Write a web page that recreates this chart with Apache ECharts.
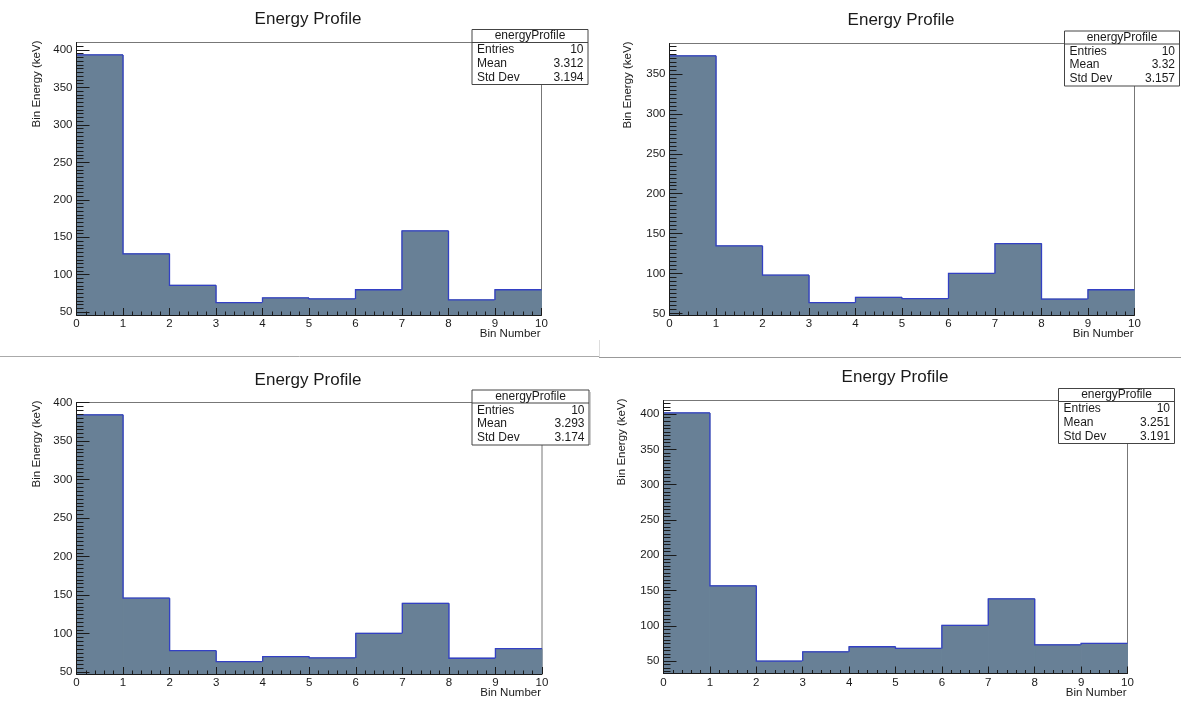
<!DOCTYPE html>
<html>
<head>
<meta charset="utf-8">
<script src="https://cdn.jsdelivr.net/npm/echarts@6/dist/echarts.min.js"></script>
<style>
html,body{margin:0;padding:0;background:#fff;}
#chart{width:1181px;height:713px;}
</style>
</head>
<body>
<div id="chart"></div>
<script>
// ---------------- data ----------------
const binNumbers = [0, 1, 2, 3, 4, 5, 6, 7, 8, 9];
const binWidth = 1;
const panel1Values = [393.4, 127.9, 85.9, 62.8, 69.0, 67.7, 80.0, 158.5, 66.4, 80.0];
const panel2Values = [372.9, 134.6, 97.9, 63.4, 70.0, 68.4, 100.0, 137.5, 67.9, 79.6];
const panel3Values = [384.2, 146.2, 78.0, 63.7, 70.2, 68.5, 100.5, 139.4, 68.1, 80.6];
const panel4Values = [401.8, 156.7, 50.0, 63.2, 70.3, 68.0, 100.6, 138.2, 73.1, 75.0];
const xTickLabels = [0, 1, 2, 3, 4, 5, 6, 7, 8, 9, 10];
const yTicks1 = [50, 100, 150, 200, 250, 300, 350, 400];
const yTicks2 = [50, 100, 150, 200, 250, 300, 350];
const yTicks3 = [50, 100, 150, 200, 250, 300, 350, 400];
const yTicks4 = [50, 100, 150, 200, 250, 300, 350, 400];
const statsEntries = ['10', '10', '10', '10'];
const statsMean = ['3.312', '3.32', '3.293', '3.251'];
const statsStdDev = ['3.194', '3.157', '3.174', '3.191'];
const titleText = 'Energy Profile';
const xTitle = 'Bin Number';
const yTitle = 'Bin Energy (keV)';
const statsName = 'energyProfile';

const allValues = [panel1Values, panel2Values, panel3Values, panel4Values];
const allYTicks = [yTicks1, yTicks2, yTicks3, yTicks4];

// ---------------- layout (positions / styles) ----------------
const FONT = '"Liberation Sans", Arial, Helvetica, sans-serif';
const FILL = '#688096';
const EDGE = '#3340c4';
const INK = '#1a1a1a';
const layout = [
  {left: 76.5, top: 42.5, width: 465, height: 272.5, titleX: 308, titleY: 19, yTitleX: 36.5, box: {x: 472, y: 29.5, w: 116}},
  {left: 669.5, top: 43.5, width: 465, height: 271.5, titleX: 901, titleY: 20.5, yTitleX: 628, box: {x: 1064.5, y: 31, w: 115}},
  {left: 76.5, top: 402.5, width: 465.5, height: 271.5, titleX: 308, titleY: 380, yTitleX: 36.5, box: {x: 472, y: 390, w: 117}},
  {left: 663.5, top: 400.5, width: 464, height: 273, titleX: 895, titleY: 377.5, yTitleX: 622, box: {x: 1058.5, y: 388.5, w: 116}}
];

function extentOf(vals) {
  const mn = Math.min.apply(null, vals), mx = Math.max.apply(null, vals);
  const m = 0.05 * (mx - mn);
  return [mn - m, mx + m];
}

const grids = [], xAxes = [], yAxes = [], series = [], graphics = [];

allValues.forEach(function (vals, p) {
  const L = layout[p];
  const ext = extentOf(vals);
  const majors = allYTicks[p];
  const minors = [];
  for (let v = Math.ceil(ext[0] / 5) * 5; v <= ext[1]; v += 5) {
    if (v % 50 !== 0) minors.push(v);
  }
  grids.push({
    left: L.left, top: L.top, width: L.width, height: L.height,
    show: true, borderColor: '#777', borderWidth: 1, backgroundColor: 'transparent',
    containLabel: false, outerBoundsMode: 'none'
  });
  xAxes.push({
    type: 'value', gridIndex: p, min: xTickLabels[0], max: xTickLabels[xTickLabels.length - 1], interval: 1,
    z: 5,
    axisLine: {show: true, onZero: false, lineStyle: {color: INK, width: 1}},
    axisTick: {show: true, inside: true, length: 7, lineStyle: {color: INK, width: 1}},
    minorTick: {show: true, splitNumber: 5, length: 3.5, lineStyle: {color: INK, width: 1}},
    splitLine: {show: false}, minorSplitLine: {show: false},
    axisLabel: {fontFamily: FONT, fontSize: 11.5, color: INK, margin: 3,
      formatter: function (v) { return String(v); }}
  });
  yAxes.push({
    type: 'value', gridIndex: p, position: 'left', min: ext[0], max: ext[1], z: 5,
    axisLine: {show: true, onZero: false, lineStyle: {color: INK, width: 1}},
    axisTick: {show: true, inside: true, length: 13, customValues: majors, lineStyle: {color: INK, width: 1}},
    axisLabel: {show: true, customValues: majors, fontFamily: FONT, fontSize: 11.5, color: INK, margin: 4},
    splitLine: {show: false}
  });
  yAxes.push({
    type: 'value', gridIndex: p, position: 'left', offset: 0, min: ext[0], max: ext[1], z: 5,
    axisLine: {show: false},
    axisTick: {show: true, inside: true, length: 7, customValues: minors, lineStyle: {color: INK, width: 1}},
    axisLabel: {show: false},
    splitLine: {show: false}
  });
  // [bin low edge, content, previous bin content]
  const binData = binNumbers.map(function (b, i) { return [b, vals[i], i > 0 ? vals[i - 1] : vals[i]]; });
  series.push({
    type: 'custom', xAxisIndex: p, yAxisIndex: 2 * p, data: binData, silent: true, z: 2, clip: true,
    encode: {x: 0, y: 1},
    renderItem: function (params, api) {
      const x0 = api.value(0), v = api.value(1), prev = api.value(2);
      const tl = api.coord([x0, v]);
      const br = api.coord([x0 + binWidth, ext[0]]);
      const pPrev = api.coord([x0, prev]);
      const pEnd = api.coord([x0 + binWidth, v]);
      return {type: 'group', children: [
        {type: 'rect', shape: {x: tl[0], y: tl[1], width: br[0] - tl[0], height: br[1] - tl[1]},
          style: {fill: FILL, stroke: FILL, lineWidth: 1}},
        {type: 'polyline', shape: {points: [pPrev, tl, pEnd]},
          style: {stroke: EDGE, lineWidth: 1.3, fill: null}}
      ]};
    }
  });

  // title
  graphics.push({type: 'text', x: L.titleX, y: L.titleY, z: 20,
    style: {text: titleText, fontFamily: FONT, fontSize: 17, fill: INK, textAlign: 'center', textVerticalAlign: 'middle'}});
  // x title (right aligned under frame)
  graphics.push({type: 'text', x: L.left + L.width - 1, y: L.top + L.height + 19, z: 20,
    style: {text: xTitle, fontFamily: FONT, fontSize: 11.5, fill: INK, textAlign: 'right', textVerticalAlign: 'middle'}});
  // y title (rotated, top end at frame top)
  graphics.push({type: 'text', x: L.yTitleX, y: L.top - 2, rotation: Math.PI / 2, z: 20,
    style: {text: yTitle, fontFamily: FONT, fontSize: 11.5, fill: INK, textAlign: 'right', textVerticalAlign: 'middle'}});
  // stats box
  const B = L.box, H = 55;
  graphics.push({type: 'group', x: B.x, y: B.y, z: 30, children: [
    {type: 'rect', shape: {x: 0, y: 0, width: B.w, height: H}, style: {fill: '#fff', stroke: '#444', lineWidth: 1}},
    {type: 'line', shape: {x1: 0, y1: 13, x2: B.w, y2: 13}, style: {stroke: '#444', lineWidth: 1}},
    {type: 'text', x: B.w / 2, y: 6.5, style: {text: statsName, fontFamily: FONT, fontSize: 12, fill: INK, textAlign: 'center', textVerticalAlign: 'middle'}},
    {type: 'text', x: 5, y: 20.3, style: {text: 'Entries', fontFamily: FONT, fontSize: 12, fill: INK, textAlign: 'left', textVerticalAlign: 'middle'}},
    {type: 'text', x: B.w - 4.5, y: 20.3, style: {text: statsEntries[p], fontFamily: FONT, fontSize: 12, fill: INK, textAlign: 'right', textVerticalAlign: 'middle'}},
    {type: 'text', x: 5, y: 34, style: {text: 'Mean', fontFamily: FONT, fontSize: 12, fill: INK, textAlign: 'left', textVerticalAlign: 'middle'}},
    {type: 'text', x: B.w - 4.5, y: 34, style: {text: statsMean[p], fontFamily: FONT, fontSize: 12, fill: INK, textAlign: 'right', textVerticalAlign: 'middle'}},
    {type: 'text', x: 5, y: 47.8, style: {text: 'Std Dev', fontFamily: FONT, fontSize: 12, fill: INK, textAlign: 'left', textVerticalAlign: 'middle'}},
    {type: 'text', x: B.w - 4.5, y: 47.8, style: {text: statsStdDev[p], fontFamily: FONT, fontSize: 12, fill: INK, textAlign: 'right', textVerticalAlign: 'middle'}}
  ]});
});

// panel dividers (screenshot seams)
graphics.push({type: 'line', z: 1, shape: {x1: 0, y1: 356.5, x2: 599, y2: 356.5}, style: {stroke: '#aaa', lineWidth: 1}});
graphics.push({type: 'line', z: 1, shape: {x1: 599, y1: 357.5, x2: 1181, y2: 357.5}, style: {stroke: '#999', lineWidth: 1}});
graphics.push({type: 'line', z: 1, shape: {x1: 599.5, y1: 340, x2: 599.5, y2: 357}, style: {stroke: '#ddd', lineWidth: 1}});
graphics.push({type: 'line', z: 1, shape: {x1: 590.5, y1: 392, x2: 590.5, y2: 445}, style: {stroke: '#ccc', lineWidth: 1}});

const chart = echarts.init(document.getElementById('chart'), null, {renderer: 'canvas'});
chart.setOption({
  animation: false,
  backgroundColor: '#fff',
  grid: grids,
  xAxis: xAxes,
  yAxis: yAxes,
  series: series,
  graphic: graphics,
  tooltip: {show: false}
});
</script>
</body>
</html>
